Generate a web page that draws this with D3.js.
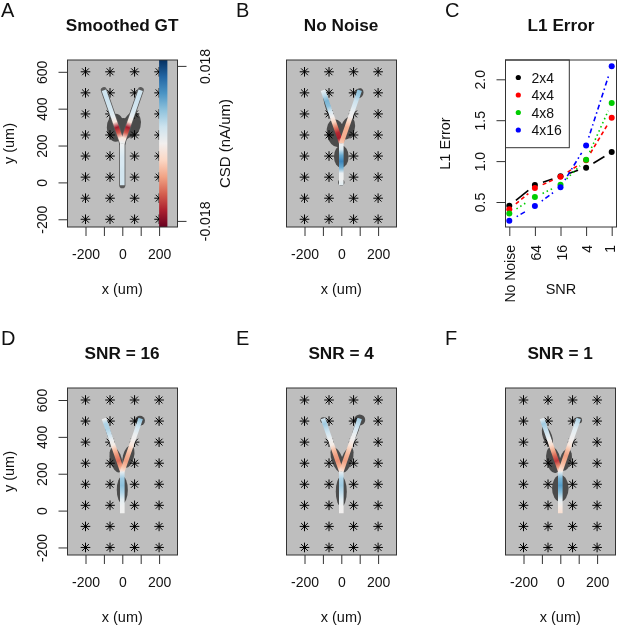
<!DOCTYPE html>
<html><head><meta charset="utf-8">
<script src="https://cdn.jsdelivr.net/npm/d3@7"></script>
<style>html,body{margin:0;padding:0;background:#fff}svg{display:block;filter:blur(0.3px)}text{font-family:"Liberation Sans",Arial,sans-serif;fill:#111}</style>
</head><body><svg id="c" width="617" height="625"></svg>
<script>
// ---- data ----
const electrodeX = [-200, -66.7, 66.7, 200];
const electrodeY = [600, 485.7, 371.4, 257.1, 142.9, 28.6, -85.7, -200];
const axisXTicks = [-200, -100, 0, 100, 200];
const axisXLabels = [-200, 0, 200];
const axisYTicks = [-200, 0, 200, 400, 600];
const csdTicks = [-0.018, 0.018];
const csdMax = 0.0195;
const branchTrunk = [[0, -15], [0, 212]];
const branchLeft = [[-100, 500], [0, 212]];
const branchRight = [[100, 500], [0, 212]];

// CSD along each branch (first point to second point), units of nA/um
const gtTrunk = [.0035, .0035, .0035, .003, .003, .002, .0005];
const gtLeft = [.0035, .004, .004, .0035, .003, .0015, -.002, -.016, -.012, -.002, .001];
const gtRight = [.0035, .004, .004, .0035, .003, .0015, -.002, -.016, -.012, -.002, .001];
const noNoiseTrunk = [.002, .0005, .001, .010, .013, .010, .003, .0];
const noNoiseLeft = [.001, .005, .009, .008, .003, .0, -.004, -.010, -.015, -.016, -.006];
const noNoiseRight = [.008, .007, .004, .003, .001, .0, -.004, -.007, -.007, -.007, -.005];
const snr16Trunk = [.0003, .0005, .002, .006, .008, .007, .001];
const snr16Left = [.0, .006, .006, .004, .001, -.001, -.006, -.009, -.011, -.008, -.002];
const snr16Right = [.008, .005, .003, .001, .0, -.002, -.005, -.007, -.008, -.006, -.002];
const snr4Trunk = [.0, .0003, .002, .005, .007, .006, .001];
const snr4Left = [.003, .007, .005, .003, .0005, -.001, -.006, -.008, -.009, -.007, -.002];
const snr4Right = [.007, .005, .003, .001, .0, -.002, -.005, -.007, -.008, -.006, -.002];
const snr1Trunk = [-.003, -.001, .002, .008, .011, .009, .001];
const snr1Left = [.001, .007, .005, .003, .0005, -.003, -.007, -.011, -.014, -.009, -.002];
const snr1Right = [.006, .004, .002, .001, .0, -.002, -.006, -.008, -.007, -.005, -.001];

// ground-truth source blobs: [cx, cy, rx, ry, tilt] in um
const gtBlobs = [[-36, 296, 48, 76, 0], [52, 312, 48, 70, 15], [5, 290, 50, 60, 0]];
const noNoiseBlobs = [[-29, 267, 50, 76, -10], [35, 294, 38, 62, 15], [0, 140, 40, 60, 0], [0, 0, 17, 17, 0], [98, 484, 22, 28, 20], [-70, 402, 14, 75, -19]];
const snr16Blobs = [[-34, 275, 32, 70, -15], [33, 293, 30, 62, 15], [0, 112, 30, 74, 0], [96, 487, 27, 27, 0], [-70, 411, 12, 70, -19]];
const snr4Blobs = [[-22, 275, 30, 72, -19], [30, 275, 30, 72, 19], [0, 103, 30, 82, 0], [80, 438, 15, 70, 19], [100, 492, 30, 30, 0], [-98, 490, 16, 16, 0]];
const snr1Blobs = [[-38, 275, 38, 72, -10], [29, 275, 32, 60, 15], [0, 121, 45, 72, 0], [-70, 402, 25, 60, -19], [100, 490, 18, 18, 0]];

// L1 error panel
const snrLabels = ["No Noise", "64", "16", "4", "1"];
const errorTicks = [0.5, 1.0, 1.5, 2.0];
const layouts = ["2x4", "4x4", "4x8", "4x16"];
const err2x4 = [.455, .708, .815, .92, 1.11];
const err4x4 = [.41, .67, .81, 1.01, 1.53];
const err4x8 = [.36, .56, .71, 1.015, 1.71];
const err4x16 = [.27, .45, .68, 1.19, 2.16];

// ---- drawing ----
const svg = d3.select("#c");
const defs = svg.append("defs");
const FS = 14, TS = 14.5, DARK = "#333", INK = "#111";
const csdColor = d3.scaleSequential(d3.interpolateRdBu).domain([-csdMax, csdMax]);
let gid = 0;

function styleAxis(g) {
  g.select(".domain").remove();
  g.selectAll(".tick line").attr("stroke", DARK).attr("stroke-width", 1);
  g.selectAll(".tick text").attr("font-size", FS).attr("fill", INK)
    .style("font-family", '"Liberation Sans",Arial,sans-serif');
}
function label(x, y, t, o = {}) {
  const s = svg.append("text").attr("x", x).attr("y", y).text(t)
    .attr("font-size", o.size || TS).attr("font-weight", o.bold ? "bold" : null)
    .attr("text-anchor", o.anchor || "middle");
  if (o.rot) s.attr("transform", `rotate(-90 ${x} ${y})`);
  return s;
}
const star = (x, y, r) => {
  const p = d3.path(), d = r * Math.SQRT1_2;
  p.moveTo(x - r, y); p.lineTo(x + r, y); p.moveTo(x, y - r); p.lineTo(x, y + r);
  p.moveTo(x - d, y - d); p.lineTo(x + d, y + d); p.moveTo(x - d, y + d); p.lineTo(x + d, y - d);
  return p.toString();
};

function csdPanel(o) {
  const top = o.top, bottom = top + 167, left = o.left, right = left + 110;
  const x = d3.scaleLinear().domain([-300, 300]).range([o.x0 - 55.2, o.x0 + 55.2]);
  const y = d3.scaleLinear().domain([0, 600]).range([o.y0, o.y0 - 110.6]);
  const k = x(1) - x(0);
  const clipId = "clip" + (gid++);
  defs.append("clipPath").attr("id", clipId).append("rect")
    .attr("x", left).attr("y", top).attr("width", right - left).attr("height", bottom - top);
  svg.append("rect").attr("x", left).attr("y", top).attr("width", right - left).attr("height", bottom - top).attr("fill", "#bebebe");
  const g = svg.append("g").attr("clip-path", `url(#${clipId})`);
  g.selectAll("ellipse").data(o.blobs).join("ellipse")
    .attr("cx", 0).attr("cy", 0).attr("rx", d => d[2] * k).attr("ry", d => d[3] * k)
    .attr("transform", d => `translate(${x(d[0])},${y(d[1])}) rotate(${d[4]})`).attr("fill", "#4b4b4b");
  const stars = electrodeX.flatMap(ex => electrodeY.map(ey => [ex, ey]));
  g.append("g").selectAll("path").data(stars).join("path")
    .attr("d", d => star(x(d[0]), y(d[1]), 4.8)).attr("stroke", "#000").attr("stroke-width", 1).attr("fill", "none");
  const branches = [[branchLeft, o.left_], [branchRight, o.right_], [branchTrunk, o.trunk]];
  if (o.halo) g.append("g").selectAll("path").data(branches).join("path")
    .attr("d", d => d3.line().x(p => x(p[0])).y(p => y(p[1]))(d[0]))
    .attr("stroke", "#5a5a5a").attr("stroke-width", 6.2).attr("stroke-linecap", "round").attr("fill", "none");
  branches.forEach(([seg, vals]) => {
    const id = "grad" + (gid++);
    const grad = defs.append("linearGradient").attr("id", id).attr("gradientUnits", "userSpaceOnUse")
      .attr("x1", x(seg[0][0])).attr("y1", y(seg[0][1])).attr("x2", x(seg[1][0])).attr("y2", y(seg[1][1]));
    grad.selectAll("stop").data(vals).join("stop")
      .attr("offset", (d, i) => i / (vals.length - 1)).attr("stop-color", d => csdColor(d));
    g.append("line").attr("x1", x(seg[0][0])).attr("y1", y(seg[0][1])).attr("x2", x(seg[1][0])).attr("y2", y(seg[1][1]))
      .attr("stroke", `url(#${id})`).attr("stroke-width", 4.6).attr("stroke-linecap", "butt");
  });
  if (o.colorbar) {
    const id = "grad" + (gid++);
    const grad = defs.append("linearGradient").attr("id", id).attr("x1", 0).attr("y1", 1).attr("x2", 0).attr("y2", 0);
    grad.selectAll("stop").data(d3.range(0, 1.001, 0.1)).join("stop")
      .attr("offset", d => d).attr("stop-color", d => d3.interpolateRdBu(d));
    g.append("rect").attr("x", x(200)).attr("width", x(245) - x(200)).attr("y", top).attr("height", bottom - top).attr("fill", `url(#${id})`);
    const c = d3.scaleLinear().domain(csdTicks).range([o.y0 + 38.5, o.y0 - 116.5]);
    const ax = svg.append("g").attr("transform", `translate(${right},0)`)
      .call(d3.axisRight(c).tickValues(csdTicks).tickSize(9).tickFormat(d => d.toFixed(3))).call(styleAxis);
    ax.selectAll(".tick text").attr("text-anchor", "middle").attr("x", 0).attr("y", 0).attr("dy", 0)
      .attr("transform", "translate(32,0) rotate(-90)");
    label(229.5, (top + bottom) / 2, "CSD (nA/um)", { rot: true, size: 15 });
  }
  svg.append("rect").attr("x", left).attr("y", top).attr("width", right - left).attr("height", bottom - top)
    .attr("fill", "none").attr("stroke", DARK).attr("stroke-width", 1);
  svg.append("g").attr("transform", `translate(0,${bottom})`)
    .call(d3.axisBottom(x).tickValues(axisXTicks).tickSize(9).tickPadding(13)
      .tickFormat(d => axisXLabels.includes(d) ? String(d) : "")).call(styleAxis);
  label(o.x0, bottom + 66.8, "x (um)");
  if (o.yAxis) {
    const ax = svg.append("g").attr("transform", `translate(${left},0)`)
      .call(d3.axisLeft(y).tickValues(axisYTicks).tickSize(9).tickFormat(d => String(d))).call(styleAxis);
    ax.selectAll(".tick text").attr("text-anchor", "middle").attr("x", 0).attr("y", 0).attr("dy", 0)
      .attr("transform", "translate(-21,0) rotate(-90)");
    label(14, (top + bottom) / 2, "y (um)", { rot: true });
  }
  label(o.x0 - 0.2, top - 29, o.title, { bold: true, size: 17.2 });
  label(o.lx, top - 43, o.letter, { size: 20, anchor: "start" });
}

csdPanel({ letter: "A", lx: 1, title: "Smoothed GT", left: 67.5, top: 60, x0: 122.3, y0: 182.4, yAxis: true, colorbar: true, halo: true, blobs: gtBlobs, left_: gtLeft, right_: gtRight, trunk: gtTrunk });
csdPanel({ letter: "B", lx: 236, title: "No Noise", left: 286.5, top: 60, x0: 341.3, y0: 182.4, blobs: noNoiseBlobs, left_: noNoiseLeft, right_: noNoiseRight, trunk: noNoiseTrunk });
csdPanel({ letter: "D", lx: 1, title: "SNR = 16", left: 67.5, top: 388, x0: 122.3, y0: 510.6, yAxis: true, blobs: snr16Blobs, left_: snr16Left, right_: snr16Right, trunk: snr16Trunk });
csdPanel({ letter: "E", lx: 236, title: "SNR = 4", left: 286.5, top: 388, x0: 341.3, y0: 510.6, blobs: snr4Blobs, left_: snr4Left, right_: snr4Right, trunk: snr4Trunk });
csdPanel({ letter: "F", lx: 445, title: "SNR = 1", left: 505.5, top: 388, x0: 560.3, y0: 510.6, blobs: snr1Blobs, left_: snr1Left, right_: snr1Right, trunk: snr1Trunk });

// Panel C
(function () {
  const left = 505.5, right = 616.5, top = 60, bottom = 227;
  const x = d3.scaleLinear().domain([0, snrLabels.length - 1]).range([509.3, 611.7]);
  const y = d3.scaleLinear().domain([0.5, 2]).range([202, 79.3]);
  const seriesList = [
    { name: layouts[0], vals: err2x4, color: "#000", dash: null },
    { name: layouts[1], vals: err4x4, color: "#f00", dash: "4,3" },
    { name: layouts[2], vals: err4x8, color: "#00cd00", dash: "1.5,3" },
    { name: layouts[3], vals: err4x16, color: "#00f", dash: "1.5,3,5,3" }
  ];
  svg.append("rect").attr("x", left).attr("y", top).attr("width", right - left).attr("height", bottom - top).attr("fill", "#fff");
  seriesList.forEach(s => {
    const pts = s.vals.map((v, i) => [x(i), y(v)]);
    d3.pairs(pts).forEach(([a, b]) => {
      const dx = b[0] - a[0], dy = b[1] - a[1], L = Math.hypot(dx, dy), gap = 8.5 / L;
      if (gap >= 0.5) return;
      svg.append("line").attr("x1", a[0] + dx * gap).attr("y1", a[1] + dy * gap)
        .attr("x2", b[0] - dx * gap).attr("y2", b[1] - dy * gap)
        .attr("stroke", s.color).attr("stroke-width", 1.6).attr("stroke-dasharray", s.dash);
    });
    svg.append("g").selectAll("circle").data(pts).join("circle")
      .attr("cx", d => d[0]).attr("cy", d => d[1]).attr("r", 3).attr("fill", s.color);
  });
  const legTop = 60, legH = 87.7, legW = 63.8;
  svg.append("rect").attr("x", left).attr("y", legTop).attr("width", legW).attr("height", legH).attr("fill", "#fff").attr("stroke", DARK);
  seriesList.forEach((s, i) => {
    const ly = 77.5 + i * 17.5;
    svg.append("circle").attr("cx", 518.3).attr("cy", ly).attr("r", 2.6).attr("fill", s.color);
    label(531.5, ly + 5, s.name, { anchor: "start", size: FS });
  });
  svg.append("rect").attr("x", left).attr("y", top).attr("width", right - left).attr("height", bottom - top)
    .attr("fill", "none").attr("stroke", DARK);
  const ax = svg.append("g").attr("transform", `translate(0,${bottom})`)
    .call(d3.axisBottom(x).tickValues(d3.range(snrLabels.length)).tickSize(9).tickFormat(i => snrLabels[i])).call(styleAxis);
  ax.selectAll(".tick text").attr("text-anchor", "end").attr("x", 0).attr("y", 0).attr("dy", 0)
    .attr("transform", (d, i) => `translate(${i === snrLabels.length - 1 ? 2.3 : 5.5},18) rotate(-90)`);
  const ay = svg.append("g").attr("transform", `translate(${left},0)`)
    .call(d3.axisLeft(y).tickValues(errorTicks).tickSize(9).tickFormat(d3.format(".1f"))).call(styleAxis);
  ay.selectAll(".tick text").attr("text-anchor", "middle").attr("x", 0).attr("y", 0).attr("dy", 0)
    .attr("transform", "translate(-21,0) rotate(-90)");
  label(450, 143.5, "L1 Error", { rot: true });
  label(561, 293.5, "SNR");
  label(561, 31, "L1 Error", { bold: true, size: 17.2 });
  label(445, 17, "C", { size: 20, anchor: "start" });
})();
</script></body></html>
